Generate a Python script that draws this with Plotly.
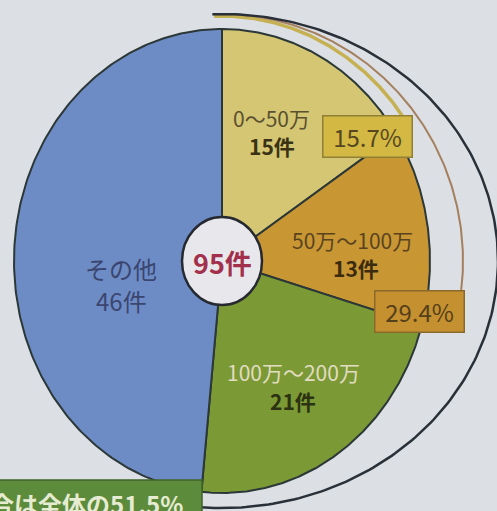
import numpy as np
import plotly.graph_objects as go

# ---- data -------------------------------------------------------------
categories = ["0～50万", "50万～100万", "100万～200万", "その他"]
counts = [15, 13, 21, 46]
cumulative_shares = [15.7, 29.4, 51.5]   # % of all cases, cumulative from the top slice
summary_text = "合は全体の"

# ---- style ------------------------------------------------------------
W, H = 497, 511
CX, CY = 222, 261          # pie centre (pixel frame, y downwards)
RX, RY = 208, 232          # pie radii
slice_colors = ["#d4c672", "#c99634", "#7b9a35", "#6d8cc6"]
edge_color = "#2c3838"
bg = "#dcdfe4"

total = sum(counts)


def ellipse_pts(a0, a1, rx, ry, n=200):
    t = np.radians(np.linspace(a0, a1, n))
    return CX + rx * np.sin(t), CY - ry * np.cos(t)


fig = go.Figure()

# pie slices, clockwise from 12 o'clock
start = 0.0
for cat, c, col in zip(categories, counts, slice_colors):
    end = start + 360.0 * c / total
    xs, ys = ellipse_pts(start, end, RX, RY)
    fig.add_trace(go.Scatter(
        x=np.r_[CX, xs, CX], y=np.r_[CY, ys, CY],
        mode="lines", fill="toself", fillcolor=col,
        line=dict(color=edge_color, width=2),
        hoverinfo="skip", showlegend=False, name=cat))
    start = end

# cumulative brackets around the pie
arc_styles = [
    dict(rx=224, ry=245, color="#c6b152", width=3.5),
    dict(rx=241, ry=247, color="#a5805e", width=2),
    dict(rx=276, ry=247, color="#293038", width=2.5),
]
for share, st in zip(cumulative_shares, arc_styles):
    xs, ys = ellipse_pts(-2.0, share * 3.6, st["rx"], st["ry"])
    fig.add_trace(go.Scatter(
        x=xs, y=ys, mode="lines",
        line=dict(color=st["color"], width=st["width"]),
        hoverinfo="skip", showlegend=False))

FONT = "Noto Sans CJK JP"
shapes = [
    # centre disc
    dict(type="circle", xref="x", yref="y", x0=CX - 40, x1=CX + 40,
         y0=CY - 44, y1=CY + 44, fillcolor="#e8e8ec",
         line=dict(color="#262a30", width=2.5), layer="above"),
    # summary banner
    dict(type="rect", xref="x", yref="y", x0=-10, x1=202, y0=480, y1=530,
         fillcolor="#5d8b3c", line=dict(color="#3f6428", width=1.5),
         layer="above"),
]

annotations = []
# slice labels: name line and count line positions, colours, size, bold count
label_styles = [
    dict(p1=(271, 118), p2=(272, 146), c1="#5b5030", c2="#3a3214", fs=21, bold=True),
    dict(p1=(352, 240), p2=(356, 268), c1="#5a4420", c2="#3b2c10", fs=21, bold=True),
    dict(p1=(293, 372), p2=(293, 401), c1="#e2dcc2", c2="#2c3212", fs=21, bold=True),
    dict(p1=(121, 268), p2=(121, 300), c1="#3b4670", c2="#3b4670", fs=24, bold=False),
]
for cat, c, ls in zip(categories, counts, label_styles):
    second = f"{c}件"
    if ls["bold"]:
        second = f"<b>{second}</b>"
    for (lx, ly), txt, col in ((ls["p1"], cat, ls["c1"]), (ls["p2"], second, ls["c2"])):
        annotations.append(dict(
            x=lx, y=ly, xref="x", yref="y", showarrow=False, text=txt,
            font=dict(family=FONT, size=ls["fs"], color=col)))

# centre total
annotations.append(dict(
    x=CX, y=CY + 1, xref="x", yref="y", showarrow=False,
    text=f"<b>{total}件</b>",
    font=dict(family=FONT, size=27, color="#a2304c")))

# cumulative share boxes
box_styles = [
    dict(x=367.5, y=136, bg="#d3b944", border="#8f8036", fc="#574720"),
    dict(x=419, y=311.5, bg="#c5902f", border="#8a6a2c", fc="#55401c"),
]
for share, bs in zip(cumulative_shares[:2], box_styles):
    annotations.append(dict(
        x=bs["x"], y=bs["y"], xref="x", yref="y", showarrow=False,
        text=f"{share}%", width=88, height=40, borderpad=0,
        bgcolor=bs["bg"], bordercolor=bs["border"], borderwidth=1.5,
        font=dict(family=FONT, size=24, color=bs["fc"])))

# summary banner text
annotations.append(dict(
    x=185, y=503, xref="x", yref="y", xanchor="right", yanchor="middle",
    showarrow=False, text=f"<b>{summary_text}{cumulative_shares[2]}%</b>",
    font=dict(family=FONT, size=24, color="#e6ecd2")))

fig.update_layout(
    width=W, height=H, margin=dict(l=0, r=0, t=0, b=0),
    paper_bgcolor=bg, plot_bgcolor=bg,
    xaxis=dict(range=[0, W], visible=False, fixedrange=True),
    yaxis=dict(range=[H, 0], visible=False, fixedrange=True),
    shapes=shapes, annotations=annotations, showlegend=False,
)

fig.write_html("out.html")
